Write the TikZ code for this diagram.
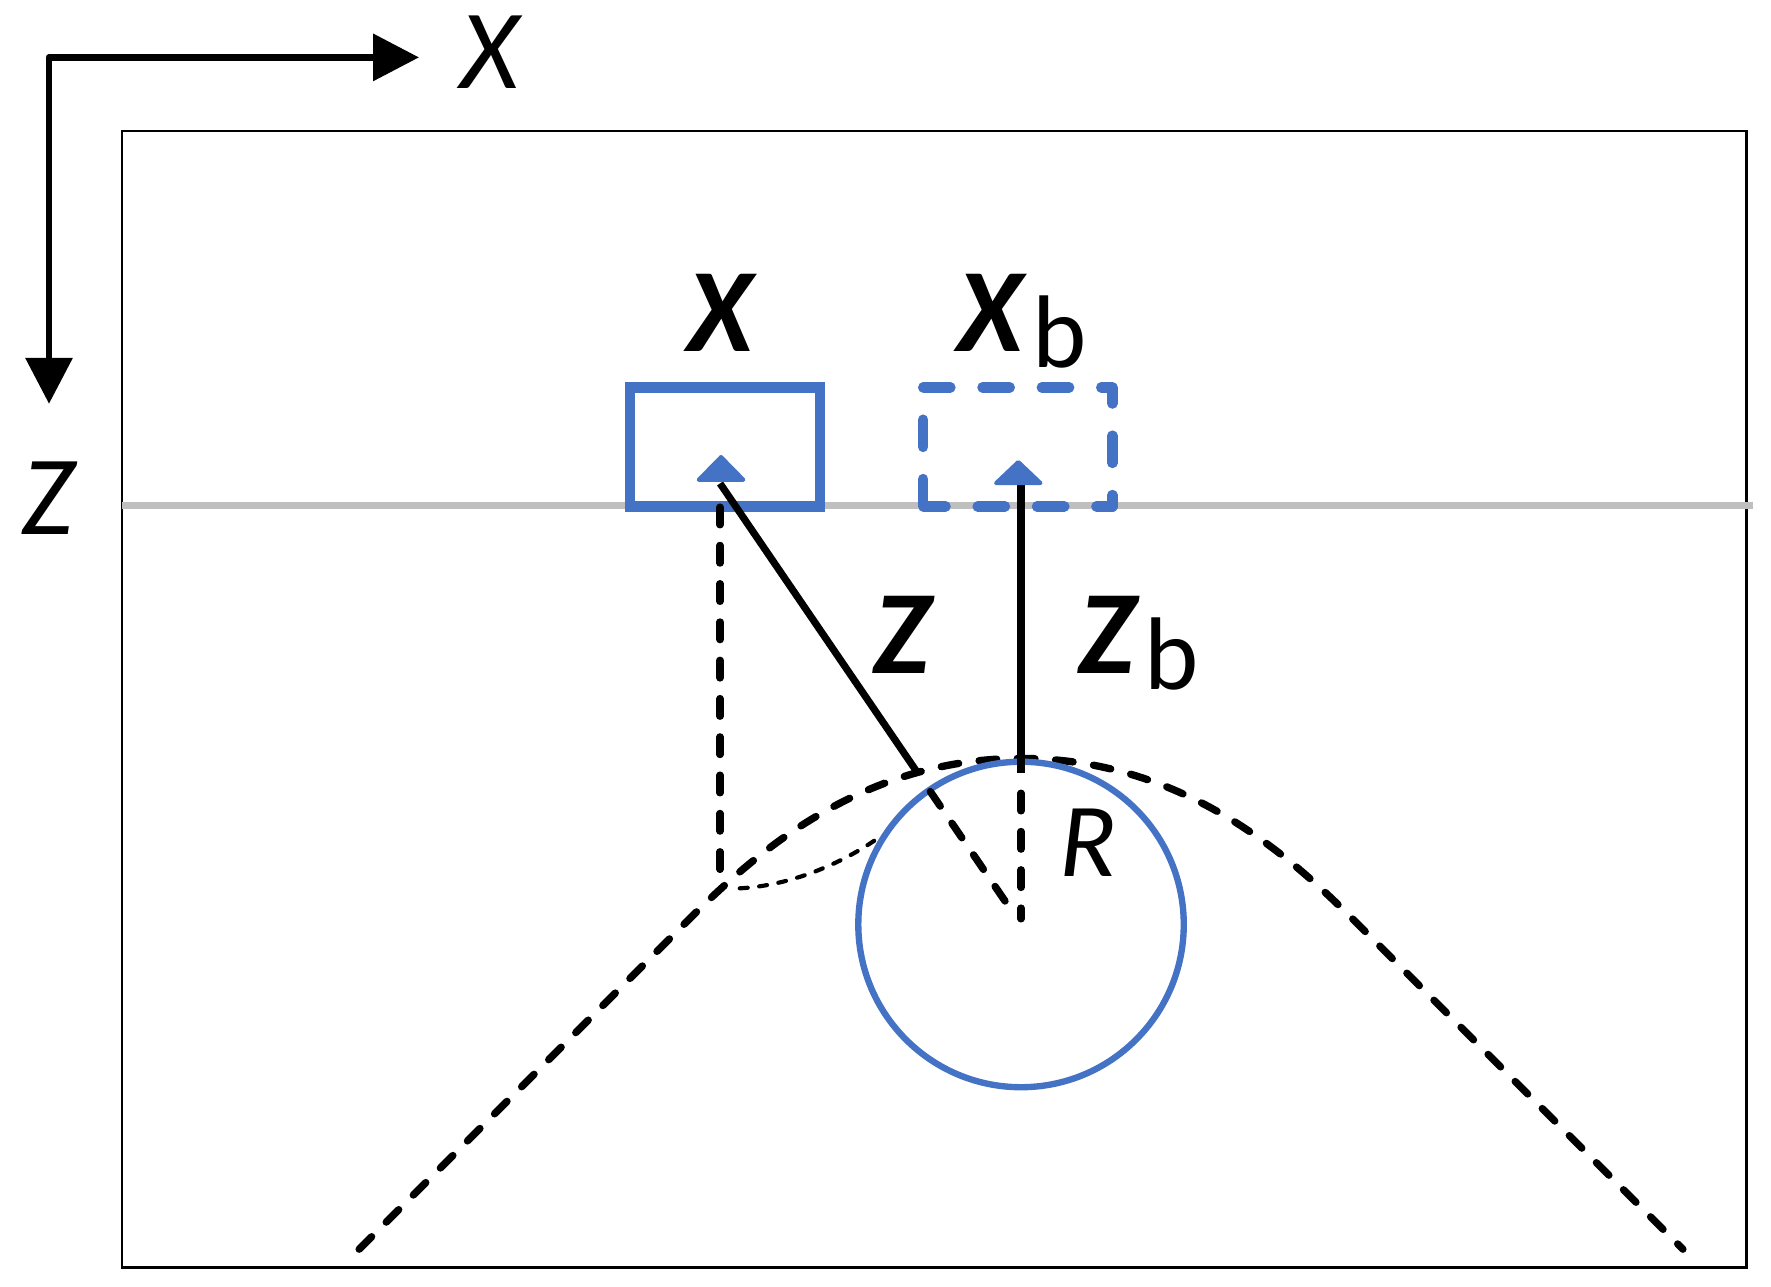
\documentclass[tikz,border=0pt]{standalone}
\usepackage{fontspec}
\setmainfont{Carlito}
\usetikzlibrary{arrows.meta,calc}
\definecolor{accent}{HTML}{4472C4}
\definecolor{surfgray}{HTML}{BFBFBF}
\newcommand{\mysubb}{\kern2.2pt\raisebox{-4pt}{\fontsize{26}{26}\selectfont\mdseries\upshape b}}
\begin{document}
\begin{tikzpicture}[x=0.01cm,y=-0.01cm,
  axisline/.style={line width=1.7pt, line join=round, line cap=round,
    {Triangle[length=0.407cm,width=0.407cm]}-{Triangle[length=0.407cm,width=0.407cm]}},
  framebox/.style={line width=0.68pt},
  surface/.style={draw=surfgray, line width=1.7pt},
  recv/.style={line width=2.6pt, minimum width=1.679cm, minimum height=1.053cm, inner sep=0pt, outer sep=0pt},
  bluedash/.style={draw=accent, line width=2.6pt, line cap=round, line join=round, dash pattern=on 6.9pt off 8.05pt},
  ray/.style={line width=1.8pt},
  blackdash/.style={line width=1.85pt, line cap=round, dash pattern=on 4.44pt off 5.2pt},
  lateblackdash/.style={blackdash, dash phase=4.44pt},
  smalldash/.style={line width=1.05pt, line cap=round, dash pattern=on 2pt off 2.9pt},
  tri/.style={fill=accent, draw=accent, line width=1pt, line join=round},
  axlabel/.style={font=\fontsize{28.5}{28.5}\selectfont\itshape, inner sep=0pt, anchor=base},
  biglabel/.style={font=\fontsize{30}{30}\selectfont\bfseries\itshape, inner sep=0pt, anchor=base}
]
\useasboundingbox (0,0) rectangle (1568,1138.6);

% axes
\coordinate (O) at (43.4,50.8);
\coordinate (Xend) at (371,50.8);
\coordinate (Zend) at (43.4,357.5);
\draw[axisline] (Xend) -- (O) -- (Zend);
\node[axlabel] (xlab) at (434,78.6) {X};
\node[axlabel] (zlab) at (42.5,473.4) {Z};

% frame and surface
\coordinate (fTL) at (108,116);
\coordinate (fBR) at (1546,1122);
\draw[framebox] (fTL) rectangle (fBR);
\coordinate (sL) at (108,447.7);
\coordinate (sR) at (1552,447.7);
\draw[surface] (sL) -- (sR);

% diffraction curve
\coordinate (hL) at (318,1106);
\coordinate (kL) at (610,814);
\coordinate (apex) at (904,671.5);
\coordinate (kR) at (1198,814);
\coordinate (hR) at (1490,1106);
\draw[blackdash] (hL) -- (kL) .. controls (670,754) and (764,671.5) .. (apex)
  .. controls (1044,671.5) and (1138,754) .. (kR) -- (hR);

% body
\node[circle, draw=accent, line width=1.6pt, minimum size=2.88cm, inner sep=0pt] (body) at (904,818.5) {};

% receivers
\node[recv, draw=accent] (rx) at (641.75,395.65) {};
\node[recv, minimum width=1.673cm] (rxb) at (901.15,395.65) {};
\draw[bluedash] (rxb.south west) -- (rxb.north west) -- (rxb.north east) -- (rxb.south east) -- cycle;

% slanted ray
\coordinate (A) at (637.5,428);
\draw[ray] (A) -- ($(A)!0.66!(body.center)$) coordinate (cross);
\draw[lateblackdash] (cross) -- ($(A)!0.95!(body.center)$);

% vertical ray
\coordinate (B) at (904,428);
\coordinate (Bs) at (904,684);
\draw[ray] (B) -- (body.north) -- (Bs);
\draw[lateblackdash] (Bs) -- ($(body.center)+(0,-5)$);

% vertical projection
\coordinate (P) at (637.5,449);
\coordinate (Pf) at (637.5,775);
\draw[blackdash] (P) -- (Pf);

% small dotted curve
\coordinate (sd) at (655,786.5);
\draw[smalldash] (sd) .. controls (700,784) and (745,765) .. (body.148);

% blue arrowheads
\coordinate (tA) at (638.4,404.6);
\coordinate (tB) at (901.6,409);
\filldraw[tri] (tA) -- ++(19.8,20.2) -- ++(-39.6,0) -- cycle;
\filldraw[tri] (tB) -- ++(19.7,18.7) -- ++(-39.4,0) -- cycle;

% labels
\node[biglabel] (lx) at (637.5,311.4) {X};
\node[biglabel] (lxb) at (905,311.4) {X\mysubb};
\node[biglabel] (lz) at (799,596.2) {Z};
\node[biglabel] (lzb) at (1008,596.2) {Z\mysubb};
\node[axlabel, font=\fontsize{26.5}{26.5}\selectfont\itshape] (lr) at (963.5,775.6) {R};
\end{tikzpicture}
\end{document}
